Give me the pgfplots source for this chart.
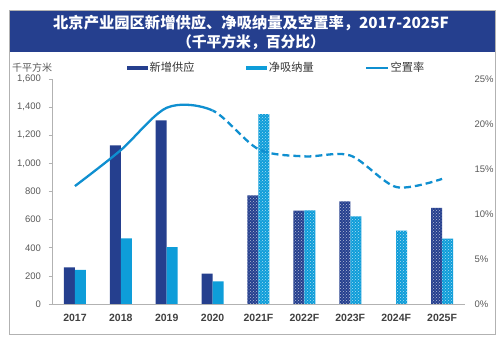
\documentclass[border=0pt]{standalone}
\usepackage{pgfplots}
\pgfplotsset{compat=1.18}
\usepackage{fontspec}
\setmainfont{Liberation Sans}
\newfontfamily\cjk{Noto Sans CJK SC}
\usetikzlibrary{patterns}
\definecolor{dblue}{HTML}{253F8E}
\definecolor{lblue}{HTML}{0E9DD9}
\definecolor{lineblue}{HTML}{0F8FD0}
\definecolor{tgray}{HTML}{595959}
\begin{document}
\begin{tikzpicture}
\path (0pt,0pt) rectangle (500pt,344pt);
\fill[dblue] (9pt,292pt) rectangle (495pt,334pt);
\draw[gray!60, line width=0.6pt] (9pt,10pt) rectangle (495pt,334pt);
\node[white, font=\cjk\bfseries\fontsize{15.3}{17}\selectfont] at (251pt,321pt) {北京产业园区新增供应、净吸纳量及空置率，2017-2025F};
\node[white, font=\cjk\bfseries\fontsize{14.8}{16}\selectfont] at (251pt,302pt) {（千平方米，百分比）};
\node[anchor=west, inner sep=0pt, font=\cjk\fontsize{10}{12}\selectfont, text=tgray] at (12pt,276pt) {千平方米};

\begin{axis}[
  at={(52pt,40pt)}, anchor=south west, scale only axis,
  width=413pt, height=225pt,
  xmin=-0.5, xmax=8.5, ymin=0, ymax=1600,
  axis x line*=bottom, axis y line*=left,
  axis line style={draw=gray!60, line width=0.6pt},
  xtick={0,...,8},
  xticklabels={2017,2018,2019,2020,2021F,2022F,2023F,2024F,2025F},
  x tick style={draw=none},
  xticklabel style={font=\bfseries\fontsize{10.5}{12}\selectfont, text=black!75, yshift=-3pt},
  ytick={0,200,...,1600},
  y tick style={draw=gray!60, line width=0.6pt},
  tick align=outside, major tick length=3.5pt,
  yticklabel style={font=\fontsize{9.5}{11}\selectfont, text=tgray, xshift=-4pt},
  /pgf/number format/1000 sep={,},
  /pgf/number format/assume math mode=true,
  legend columns=3,
  legend style={at={(0.1816,1.049)}, anchor=west, draw=none, fill=none, inner sep=0pt,
    font=\cjk\fontsize{11.2}{13}\selectfont, text=black!80,
    nodes={inner sep=1.5pt},
    /tikz/every even column/.append style={column sep=50.5pt}},
]
\addplot[ybar, bar width=11pt, bar shift=-5.5pt, fill=dblue, draw=none,
  legend image code/.code={\fill[dblue] (0pt,-2.4pt) rectangle (21pt,2.4pt);}]
  coordinates {(0,260) (1,1128) (2,1306) (3,216)};
\addlegendentry{新增供应}
\addplot[ybar, bar width=11pt, bar shift=5.5pt, fill=lblue, draw=none,
  legend image code/.code={\fill[lblue] (0pt,-2.4pt) rectangle (21pt,2.4pt);}]
  coordinates {(0,243) (1,466) (2,405) (3,161)};
\addlegendentry{净吸纳量}
\addplot[ybar, bar width=11pt, bar shift=-5.5pt, fill=dblue, draw=none, forget plot,
  postaction={pattern=crosshatch dots, pattern color=white!65!dblue}]
  coordinates {(4,772) (5,664) (6,730) (8,684)};
\addplot[ybar, bar width=11pt, bar shift=5.5pt, fill=lblue, draw=none, forget plot,
  postaction={pattern=crosshatch dots, pattern color=white!65!lblue}]
  coordinates {(4,1351) (5,665) (6,623) (7,521) (8,465)};
\addlegendimage{line width=1.3pt, lineblue, legend image code/.code={\draw[lineblue, line width=1.3pt] (0pt,0pt) -- (22pt,0pt);}}
\addlegendentry{空置率}
\end{axis}

\begin{axis}[
  at={(52pt,40pt)}, anchor=south west, scale only axis,
  width=413pt, height=225pt,
  xmin=-0.5, xmax=8.5, ymin=0, ymax=25,
  axis y line*=right, axis x line=none,
  y axis line style={draw=none},
  ytick={0,5,...,25}, major tick length=0pt,
  yticklabel={\pgfmathprintnumber{\tick}\%},
  yticklabel style={font=\fontsize{9.5}{11}\selectfont, text=tgray, xshift=6pt},
  /pgf/number format/assume math mode=true,
]
\end{axis}

\begin{axis}[
  at={(52pt,40pt)}, anchor=south west, scale only axis,
  width=160.6pt, height=225pt,
  xmin=-0.5, xmax=3, ymin=0, ymax=25, hide axis, clip=true,
]
\addplot[smooth, lineblue, line width=2.3pt]
  coordinates {(0,13.1) (1,17.1) (2,21.8) (3,21.5) (4,17.2) (5,16.4) (6,16.5) (7,13.0) (8,13.9)};
\end{axis}

\begin{axis}[
  at={(212.6pt,40pt)}, anchor=south west, scale only axis,
  width=252.4pt, height=225pt,
  xmin=3, xmax=8.5, ymin=0, ymax=25, hide axis, clip=true,
]
\addplot[smooth, lineblue, line width=2.3pt, dash pattern=on 7pt off 4pt]
  coordinates {(0,13.1) (1,17.1) (2,21.8) (3,21.5) (4,17.2) (5,16.4) (6,16.5) (7,13.0) (8,13.9)};
\end{axis}
\end{tikzpicture}
\end{document}
